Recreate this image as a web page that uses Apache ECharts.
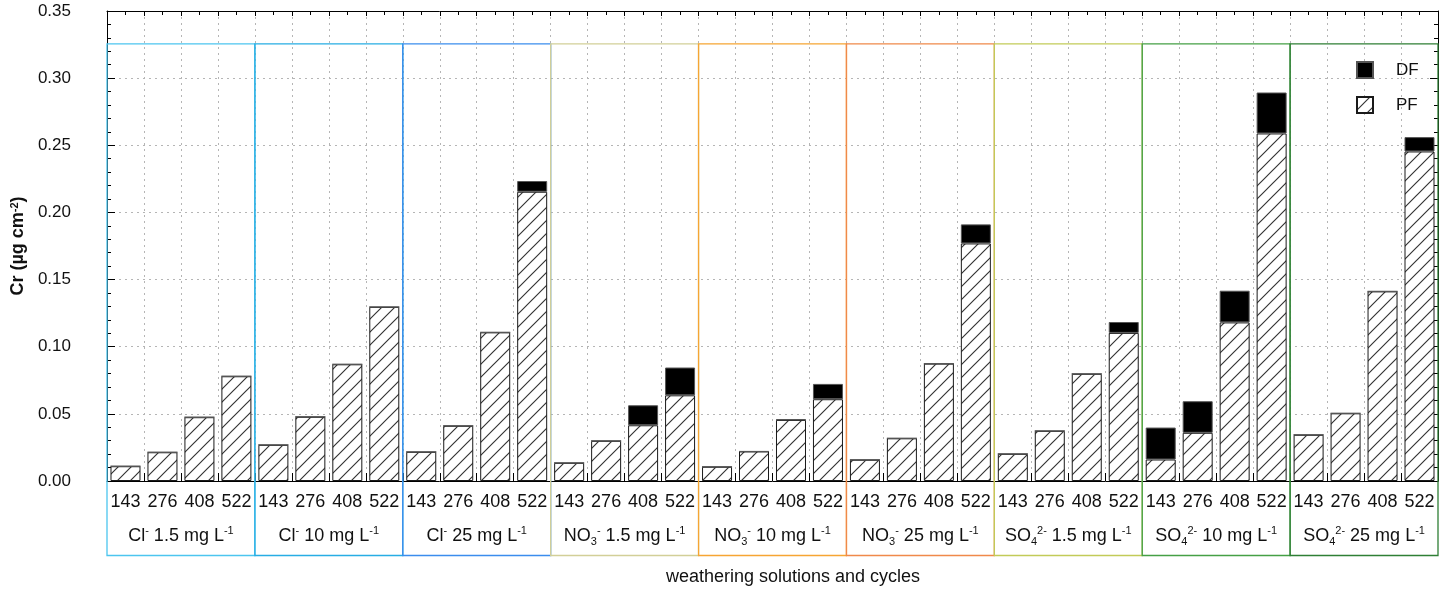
<!DOCTYPE html>
<html>
<head>
<meta charset="utf-8">
<script src="https://cdn.jsdelivr.net/npm/echarts@6/dist/echarts.min.js"></script>
<style>
html,body{margin:0;padding:0;background:#fff;}
#main{width:1453px;height:591px;}
</style>
</head>
<body>
<div id="main"></div>
<script>
// ---- data ----
const cycles = ['143', '276', '408', '522'];
const groupLabels = [
  'Cl{sup|-} 1.5 mg L{sup|-1}',
  'Cl{sup|-} 10 mg L{sup|-1}',
  'Cl{sup|-} 25 mg L{sup|-1}',
  'NO{sub|3}{sup|-} 1.5 mg L{sup|-1}',
  'NO{sub|3}{sup|-} 10 mg L{sup|-1}',
  'NO{sub|3}{sup|-} 25 mg L{sup|-1}',
  'SO{sub|4}{sup|2-} 1.5 mg L{sup|-1}',
  'SO{sub|4}{sup|2-} 10 mg L{sup|-1}',
  'SO{sub|4}{sup|2-} 25 mg L{sup|-1}'
];
const pfValues = [
  0.0110, 0.0214, 0.0475, 0.0780,
  0.0269, 0.0478, 0.0869, 0.1296,
  0.0217, 0.0411, 0.1107, 0.2154,
  0.0135, 0.0299, 0.0415, 0.0638,
  0.0106, 0.0220, 0.0455, 0.0609,
  0.0158, 0.0318, 0.0874, 0.1769,
  0.0202, 0.0373, 0.0798, 0.1103,
  0.0160, 0.0359, 0.1181, 0.2588,
  0.0344, 0.0504, 0.1412, 0.2454
];
const dfValues = [
  0, 0, 0, 0,
  0, 0, 0, 0,
  0, 0, 0, 0.0080,
  0, 0, 0.0149, 0.0207,
  0, 0, 0.0005, 0.0114,
  0, 0, 0, 0.0142,
  0, 0, 0, 0.0081,
  0.0238, 0.0235, 0.0236, 0.0305,
  0, 0, 0, 0.0107
];
const yTicks = { min: 0, max: 0.35, interval: 0.05 };
const boxTop = 0.3255;
const groupColors = ['#4cc5ef', '#27ade4', '#3b8ded', '#d2cf98', '#f6a533', '#f0894a', '#c2cb58', '#45a045', '#2f7f35'];

// ---- build ----
const categories = [];
groupLabels.forEach(() => cycles.forEach(c => categories.push(c)));
const nCat = categories.length;

function hatch() {
  const s = 13;
  const c = document.createElement('canvas');
  c.width = s; c.height = s;
  const g = c.getContext('2d');
  g.fillStyle = '#ffffff';
  g.fillRect(0, 0, s, s);
  g.strokeStyle = '#333333';
  g.lineWidth = 1.15;
  g.beginPath();
  g.moveTo(0, s); g.lineTo(s, 0);
  g.moveTo(-2, 2); g.lineTo(2, -2);
  g.moveTo(s - 2, s + 2); g.lineTo(s + 2, s - 2);
  g.stroke();
  return c;
}

const FONT = 'Arial, "Liberation Sans", sans-serif';
const chart = echarts.init(document.getElementById('main'), null, { renderer: 'canvas' });

const richLab = {
  sup: { fontSize: 11, lineHeight: 12, verticalAlign: 'top', color: '#111', fontFamily: FONT },
  sub: { fontSize: 11, lineHeight: 12, verticalAlign: 'bottom', color: '#111', fontFamily: FONT }
};

const option = {
  animation: false,
  backgroundColor: '#fff',
  textStyle: { fontFamily: FONT },
  grid: { left: 107, right: 15, top: 11, bottom: 110, containLabel: false },
  legend: {
    orient: 'vertical',
    left: 1351, top: 56,
    itemWidth: 16, itemHeight: 16, itemGap: 17,
    icon: 'rect',
    data: ['DF', 'PF'],
    textStyle: { fontSize: 17, color: '#111', fontFamily: FONT, padding: [0, 0, 0, 18] }
  },
  xAxis: [
    {
      type: 'category', data: categories, gridIndex: 0, position: 'bottom', offset: 0,
      axisLine: { show: true, onZero: false, lineStyle: { color: '#000', width: 1 } },
      axisTick: { show: false },
      axisLabel: { interval: 0, fontSize: 18, color: '#111', margin: 12, fontFamily: FONT },
      splitLine: { show: false }
    },
    {
      type: 'category', data: groupLabels, gridIndex: 0, position: 'bottom', offset: 0,
      axisLine: { show: false, onZero: false }, axisTick: { show: false }, splitLine: { show: false },
      axisLabel: {
        interval: 0, fontSize: 18, color: '#111', margin: 44, lineHeight: 22, fontFamily: FONT,
        rich: richLab
      }
    },
    {
      type: 'value', min: 0, max: nCat, interval: 1, position: 'top', offset: 0,
      axisLine: { show: true, onZero: false, lineStyle: { color: '#000', width: 1 } },
      axisTick: { show: true, inside: true, length: 5, lineStyle: { color: '#000' } },
      minorTick: { show: true, splitNumber: 2, length: 4, lineStyle: { color: '#000' } },
      axisLabel: { show: false },
      splitLine: { show: true, lineStyle: { color: '#b5b5b5', type: [2, 4], width: 1 } }
    },
    {
      type: 'value', min: 0, max: nCat, interval: 1, position: 'bottom', offset: 0,
      axisLine: { show: false, onZero: false },
      axisTick: { show: true, inside: true, length: 8, lineStyle: { color: '#000' } },
      minorTick: { show: true, splitNumber: 2, length: 4, lineStyle: { color: '#000' } },
      axisLabel: { show: false },
      splitLine: { show: false }
    }
  ],
  yAxis: [
    {
      type: 'value', min: yTicks.min, max: yTicks.max, interval: yTicks.interval, position: 'left',
      name: 'Cr (µg cm{sup|-2})', nameLocation: 'middle', nameRotate: 90, nameGap: 61,
      nameTextStyle: {
        fontSize: 18, fontWeight: 'bold', color: '#111', fontFamily: FONT,
        rich: { sup: { fontSize: 11, fontWeight: 'bold', verticalAlign: 'top', lineHeight: 12, fontFamily: FONT, color: '#111' } }
      },
      axisLine: { show: true, onZero: false, lineStyle: { color: '#000', width: 1 } },
      axisTick: { show: true, inside: true, length: 8, lineStyle: { color: '#000' } },
      minorTick: { show: true, splitNumber: 5, length: 4, lineStyle: { color: '#000' } },
      axisLabel: { fontSize: 17, color: '#111', margin: 36, fontFamily: FONT, formatter: v => v.toFixed(2) },
      splitLine: { show: true, lineStyle: { color: '#b5b5b5', type: [2, 4], width: 1 } }
    },
    {
      type: 'value', min: yTicks.min, max: yTicks.max, interval: yTicks.interval, position: 'right',
      axisLine: { show: true, onZero: false, lineStyle: { color: '#000', width: 1 } },
      axisTick: { show: true, inside: true, length: 8, lineStyle: { color: '#000' } },
      minorTick: { show: true, splitNumber: 5, length: 4, lineStyle: { color: '#000' } },
      axisLabel: { show: false },
      splitLine: { show: false }
    }
  ],
  graphic: [
    {
      type: 'text', x: 793, y: 577,
      style: { text: 'weathering solutions and cycles', fontSize: 18, fill: '#111', fontFamily: FONT, align: 'center', verticalAlign: 'middle' }
    }
  ],
  series: [
    {
      name: 'PF', type: 'bar', stack: 'cr', xAxisIndex: 0, yAxisIndex: 0,
      barWidth: 30,
      data: pfValues,
      itemStyle: { color: { image: hatch(), repeat: 'repeat' }, borderColor: '#1a1a1a', borderWidth: 1 },
      z: 4
    },
    {
      name: 'DF', type: 'bar', stack: 'cr', xAxisIndex: 0, yAxisIndex: 0,
      barWidth: 30,
      data: dfValues,
      itemStyle: { color: '#000', borderColor: '#555', borderWidth: 1 },
      z: 4
    },
    {
      name: 'boxes', type: 'custom', xAxisIndex: 1, yAxisIndex: 0, z: 5, silent: true,
      clip: false,
      data: groupLabels.map((g, i) => [i, boxTop]),
      renderItem: function (params, api) {
        const i = api.value(0);
        const top = api.coord([i, api.value(1)]);
        const base = api.coord([i, 0]);
        const w = api.size([1, 0])[0];
        return {
          type: 'rect',
          shape: { x: top[0] - w / 2, y: top[1], width: w, height: base[1] - top[1] + 74.5 },
          style: { fill: 'none', stroke: groupColors[i], lineWidth: 1.3 }
        };
      }
    }
  ]
};
chart.setOption(option);
</script>
</body>
</html>
